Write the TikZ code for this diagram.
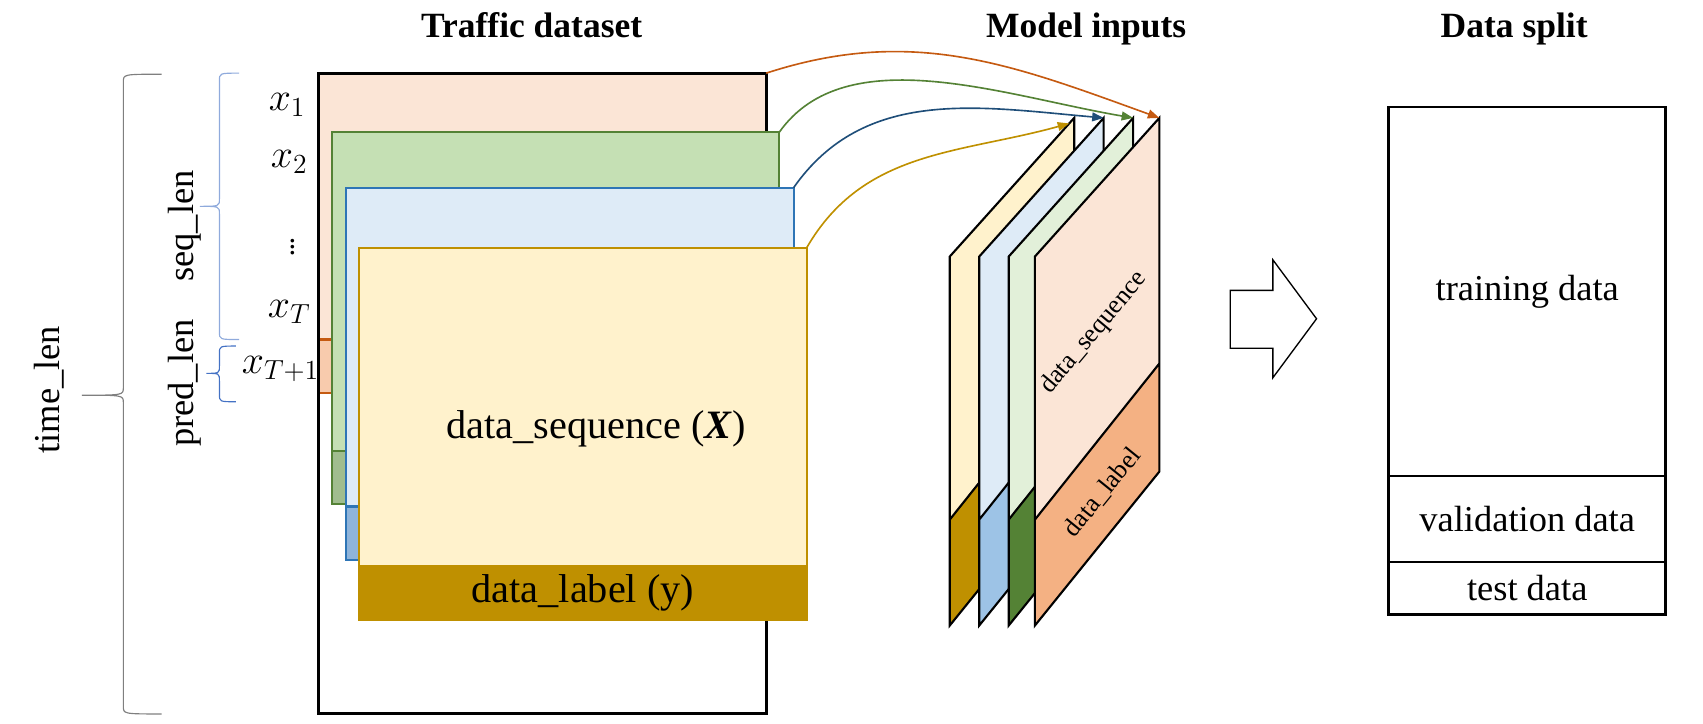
\documentclass[tikz,border=0pt]{standalone}
\usepackage{fontspec}
\setmainfont{Liberation Serif}
\usetikzlibrary{arrows.meta, positioning, calc}
\definecolor{SeqPeach}{HTML}{FBE5D6}
\definecolor{LabelPeach}{HTML}{F8CBAD}
\definecolor{OrangeLine}{HTML}{C55A11}
\definecolor{GreenFill}{HTML}{C5E0B4}
\definecolor{GreenLine}{HTML}{548235}
\definecolor{GreenDark}{HTML}{A0BD8E}
\definecolor{BlueFill}{HTML}{DEEBF7}
\definecolor{BlueLine}{HTML}{2E75B6}
\definecolor{BlueDark}{HTML}{8FB4DA}
\definecolor{BlueArrow}{HTML}{1F4E79}
\definecolor{YellowFill}{HTML}{FFF2CC}
\definecolor{GoldLine}{HTML}{BF9000}
\definecolor{SheetGreen}{HTML}{E2F0D9}
\definecolor{SheetBlue}{HTML}{9DC3E6}
\definecolor{SheetOrange}{HTML}{F4B183}
\definecolor{BraceGray}{HTML}{7F7F7F}
\definecolor{BraceBlue}{HTML}{8FAADC}
\definecolor{BraceDark}{HTML}{4472C4}

% #1 end x, #2 spine x, #3 tip x, #4 top y, #5 tip y, #6 bottom y, #7 colour
\newcommand{\sidebrace}[7]{%
    \draw[#7, line width = 0.6pt]
        (#1,#4) .. controls (#2,#4) .. (#2,{#4+7}) -- (#2,{#5-7})
        .. controls (#2,#5) .. (#3,#5)
        .. controls (#2,#5) .. (#2,{#5+7}) -- (#2,{#6-7})
        .. controls (#2,#6) .. (#1,#6);
}

% #1 left x, #2 sequence colour, #3 label colour, #4 name
\newcommand{\modelsheet}[4]{%
    \coordinate (#4-tl) at (#1,235);
    \coordinate (#4-tr) at ({#1+114},108);
    \coordinate (#4-br) at ({#1+114},432);
    \coordinate (#4-bl) at (#1,573);
    \coordinate (#4-ml) at (#1,476);
    \coordinate (#4-mr) at ({#1+114},333);
    \fill[#2] (#4-tl) -- (#4-tr) -- (#4-mr) -- (#4-ml) -- cycle;
    \fill[#3] (#4-ml) -- (#4-mr) -- (#4-br) -- (#4-bl) -- cycle;
    \draw[line width = 1.1pt] (#4-tl) -- (#4-tr) -- (#4-br) -- (#4-bl) -- cycle
        (#4-ml) -- (#4-mr);
}

\begin{document}
\begin{tikzpicture}[
        x = 0.02cm,
        y = -0.02cm,
        headtext/.style = {
            font   = \fontsize{18.5}{22}\selectfont\bfseries,
            anchor = base,
        },
        bigtext/.style   = {font = \fontsize{21}{25}\selectfont},
        sidetext/.style  = {font = \fontsize{19}{23}\selectfont, rotate = 90},
        timestep/.style  = {font = \fontsize{20}{24}\selectfont},
        sheettext/.style = {font = \fontsize{13.5}{16}\selectfont},
        stackrect/.style 2 args = {
            draw           = #1,
            fill           = #2,
            line width     = 1.1pt,
            anchor         = north west,
            inner sep      = 0pt,
            outer sep      = 0pt,
            minimum width  = 8.2cm,
            minimum height = 6.82cm,
        },
        stackstrip/.style 2 args = {
            draw           = #1,
            fill           = #2,
            line width     = 1.1pt,
            anchor         = south west,
            inner sep      = 0pt,
            outer sep      = 0pt,
            minimum width  = 8.2cm,
            minimum height = 0.98cm,
        },
        splitcell/.style = {
            draw,
            line width    = 0.85pt,
            inner sep     = 0pt,
            outer sep     = 0pt,
            minimum width = 5.08cm,
            font          = \fontsize{19}{23}\selectfont,
        },
        flowarrow/.style = {
            -{Triangle[length = 6pt, width = 4.6pt]},
            line width = 0.85pt,
        },
    ]
    \useasboundingbox (0,0) rectangle (1560,663);

    \node[headtext] (datasettitle) at (487,34)  {Traffic dataset};
    \node[headtext] (inputstitle)  at (995,34)  {Model inputs};
    \node[headtext] (splittitle)   at (1387,34) {Data split};

    % braces on the left
    \sidebrace{148}{113}{75}{68}{362}{654}{BraceGray}
    \sidebrace{219}{201}{183}{67}{189}{311}{BraceBlue}
    \sidebrace{216}{201}{189}{317}{342}{368}{BraceDark}

    \node[sidetext] (timelen) at (45,357)  {time\_len};
    \node[sidetext] (seqlen)  at (169,207) {seq\_len};
    \node[sidetext] (predlen) at (169,351) {pred\_len};

    \node[timestep] (x1)    at (263,96)  {$x_1$};
    \node[timestep] (x2)    at (265,148) {$x_2$};
    \node[timestep, scale = 0.8] (xdots) at (268,222) {$\vdots$};
    \node[timestep] (xT)    at (265,286) {$x_T$};
    \node[timestep] (xT1)   at (257,338) {$x_{T+1}$};

    % traffic dataset
    \fill[SeqPeach] (292,67) rectangle (702,311);
    \draw[OrangeLine, fill = LabelPeach, line width = 1.1pt] (292,311) rectangle (702,360);
    \node[draw, line width = 1.7pt, anchor = north west, inner sep = 0pt, outer sep = 0pt,
          minimum width = 8.2cm, minimum height = 11.74cm] (traffic) at (292,67) {};

    \node[stackrect = {GreenLine}{GreenFill}] (green) at (304,121) {};
    \node[stackstrip = {GreenLine}{GreenDark}] (greenlabel) at (green.south west) {};

    \node[stackrect = {BlueLine}{BlueFill}] (blue) at (317,172) {};
    \node[stackstrip = {BlueLine}{BlueDark}] (bluelabel) at (blue.south west) {};

    \node[stackrect = {GoldLine}{YellowFill}] (yellow) at (329,227) {};
    \node[stackstrip = {GoldLine}{GoldLine}, bigtext] (yellowlabel) at (yellow.south west)
        {data\_label (y)};
    \node[bigtext] (seqtext) at (546,393) {data\_sequence (\textbf{\textit{X}})};

    % model inputs
    \modelsheet{870}{YellowFill}{GoldLine}{ysheet}
    \modelsheet{897}{BlueFill}{SheetBlue}{bsheet}
    \modelsheet{924}{SheetGreen}{GreenLine}{gsheet}
    \modelsheet{948}{SeqPeach}{SheetOrange}{psheet}

    \node[sheettext, rotate = 50] (sheetseq)   at (1002,305) {data\_sequence};
    \node[sheettext, rotate = 51] (sheetlabel) at (1010,451) {data\_label};

    \draw[flowarrow, OrangeLine] (traffic.north east)
        .. controls (837,23) and (929,60) .. (psheet-tr);
    \draw[flowarrow, GreenLine] (green.north east)
        .. controls (775,35) and (920,88) .. (gsheet-tr);
    \draw[flowarrow, BlueArrow] (blue.north east)
        .. controls (792,79) and (897,98) .. (bsheet-tr);
    \draw[flowarrow, GoldLine] (yellow.north east)
        .. controls (791,137) and (879,141) .. ($(ysheet-tl)!0.96!(ysheet-tr)$);

    % block arrow
    \draw[line width = 0.7pt] (1127,266) -- (1166,266) -- (1166,238) -- (1206,292)
        -- (1166,346) -- (1166,319) -- (1127,319) -- cycle;

    % data split
    \node[splitcell, minimum height = 6.76cm, anchor = north west] (train) at (1272,98)
        {training data};
    \node[splitcell, minimum height = 1.58cm, below = 0pt of train] (valid) {validation data};
    \node[splitcell, minimum height = 0.96cm, below = 0pt of valid] (test) {test data};
    \draw[line width = 1.4pt] (train.north west) rectangle (test.south east);
\end{tikzpicture}
\end{document}
